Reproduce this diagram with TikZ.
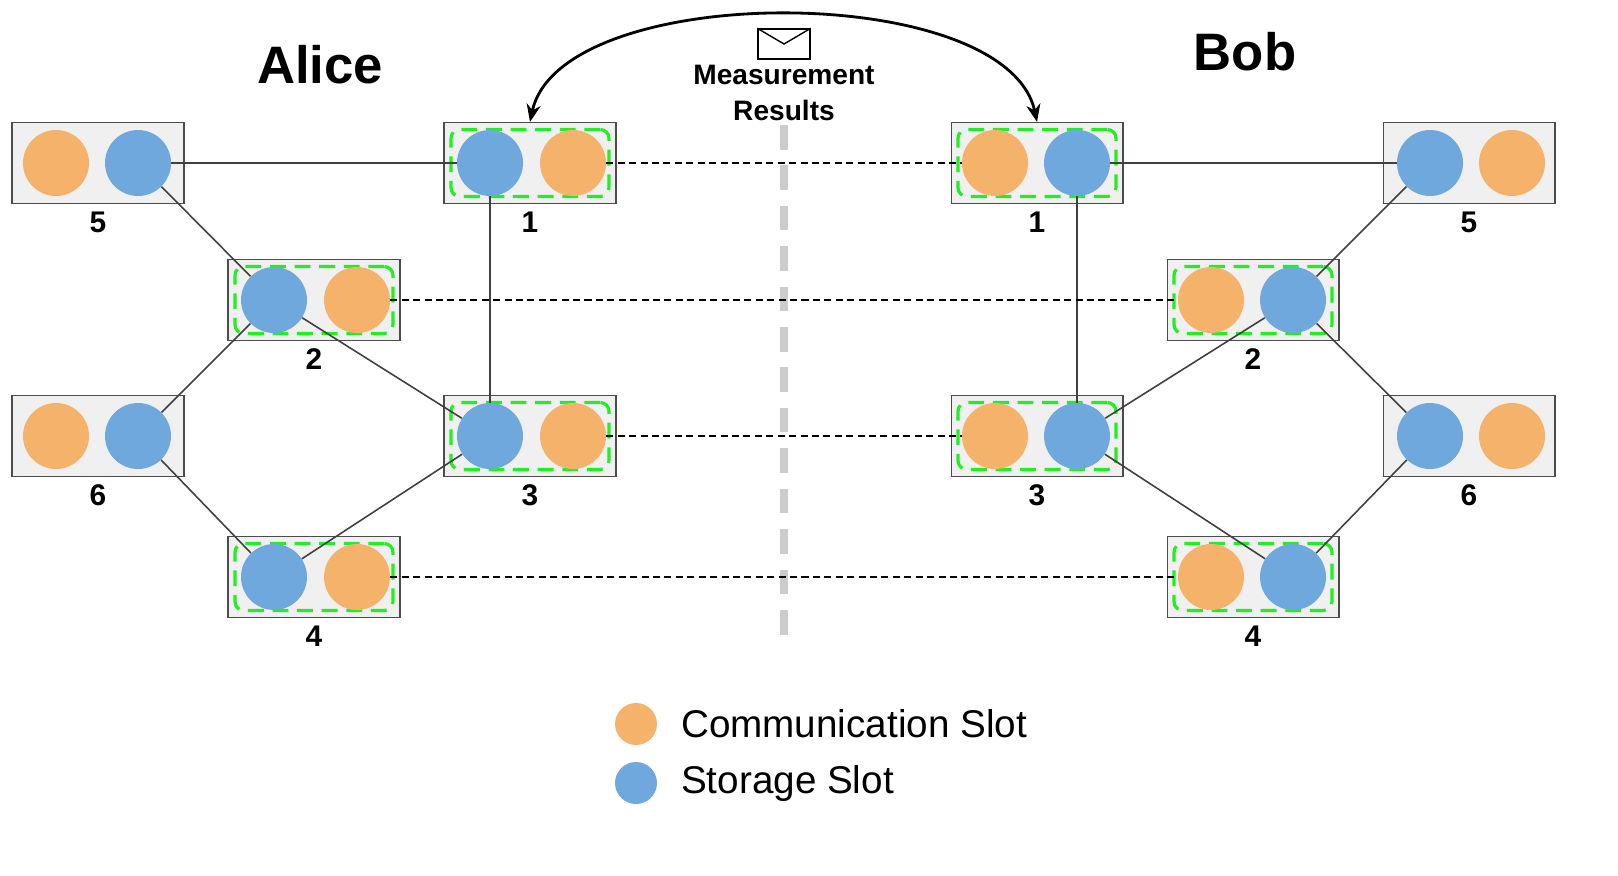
\documentclass[tikz,border=0pt]{standalone}
\usepackage{fontspec}
\setmainfont{Liberation Sans}
\usetikzlibrary{arrows.meta, positioning, shapes.geometric}
\definecolor{comm}{HTML}{F5B26B}
\definecolor{stor}{HTML}{6FA8DC}
\definecolor{boxfill}{HTML}{F0F0F0}
\definecolor{pairgreen}{HTML}{22EE22}
\begin{document}
\begin{tikzpicture}[x=0.02cm, y=-0.02cm,
        >=Stealth,
        qpu/.style={draw=black!70, fill=boxfill, minimum width=3.44cm, minimum height=1.62cm, line width=0.6pt},
        pair/.style={draw=pairgreen, dash pattern=on 9pt off 5pt, rounded corners=5pt, line width=1.8pt, minimum width=3.16cm, minimum height=1.34cm},
        cs/.style={circle, fill=comm, minimum size=1.32cm, inner sep=0pt},
        ss/.style={circle, fill=stor, minimum size=1.32cm, inner sep=0pt},
        lbl/.style={font=\bfseries\fontsize{17}{20}\selectfont},
        link/.style={draw=black!75, line width=0.9pt},
        epr/.style={black, dash pattern=on 4pt off 2.5pt, line width=0.9pt}
    ]
    \useasboundingbox (0,0) rectangle (1618,875);

    % partition line
    \draw[black!20, line width=5pt, dash pattern=on 14pt off 9pt] (784,125) -- (784,645);

    % Alice side
    \node[qpu] (a5) at (98,163) {};
    \node[qpu] (a1) at (530,163) {};
    \node[qpu] (a2) at (314,300) {};
    \node[qpu] (a6) at (98,436) {};
    \node[qpu] (a3) at (530,436) {};
    \node[qpu] (a4) at (314,577) {};
    % Bob side
    \node[qpu] (b1) at (1037,163) {};
    \node[qpu] (b5) at (1469,163) {};
    \node[qpu] (b2) at (1253,300) {};
    \node[qpu] (b6) at (1469,436) {};
    \node[qpu] (b3) at (1037,436) {};
    \node[qpu] (b4) at (1253,577) {};

    % entangled pairs
    \foreach \n in {a1,a2,a3,a4,b1,b2,b3,b4}
        \node[pair] at (\n) {};

    % slots
    \node[cs] (a5c) at (56,163) {};   \node[ss] (a5s) at (138,163) {};
    \node[ss] (a1s) at (490,163) {};  \node[cs] (a1c) at (573,163) {};
    \node[ss] (a2s) at (274,300) {};  \node[cs] (a2c) at (357,300) {};
    \node[cs] (a6c) at (56,436) {};   \node[ss] (a6s) at (138,436) {};
    \node[ss] (a3s) at (490,436) {};  \node[cs] (a3c) at (573,436) {};
    \node[ss] (a4s) at (274,577) {};  \node[cs] (a4c) at (357,577) {};
    \node[cs] (b1c) at (995,163) {};  \node[ss] (b1s) at (1077,163) {};
    \node[ss] (b5s) at (1430,163) {}; \node[cs] (b5c) at (1512,163) {};
    \node[cs] (b2c) at (1211,300) {}; \node[ss] (b2s) at (1293,300) {};
    \node[ss] (b6s) at (1430,436) {}; \node[cs] (b6c) at (1512,436) {};
    \node[cs] (b3c) at (995,436) {};  \node[ss] (b3s) at (1077,436) {};
    \node[cs] (b4c) at (1211,577) {}; \node[ss] (b4s) at (1293,577) {};

    % labels
    \foreach \n/\t in {a5/5,a1/1,a2/2,a6/6,a3/3,a4/4,b1/1,b5/5,b2/2,b6/6,b3/3,b4/4}
        \node[lbl, below=1pt of \n] {\t};

    % local links
    \draw[link] (a5s) -- (a1s);
    \draw[link] (a5s) -- (a2s);
    \draw[link] (a1s) -- (a3s);
    \draw[link] (a2s) -- (a6s);
    \draw[link] (a2s) -- (a3s);
    \draw[link] (a6s) -- (a4s);
    \draw[link] (a4s) -- (a3s);
    \draw[link] (b1s) -- (b5s);
    \draw[link] (b5s) -- (b2s);
    \draw[link] (b1s) -- (b3s);
    \draw[link] (b2s) -- (b6s);
    \draw[link] (b2s) -- (b3s);
    \draw[link] (b6s) -- (b4s);
    \draw[link] (b4s) -- (b3s);

    % remote pairs
    \draw[epr] (a1c) -- (b1c);
    \draw[epr] (a2c) -- (b2c);
    \draw[epr] (a3c) -- (b3c);
    \draw[epr] (a4c) -- (b4c);

    % classical communication
    \draw[<->, line width=1.6pt, >={Stealth[length=10pt,width=8pt]}] (a1.north) .. controls (560,-20) and (1007,-20) .. (b1.north);
    \node[draw=black, fill=white, minimum width=1.04cm, minimum height=0.6cm, inner sep=0pt, line width=0.8pt] (env) at (784,44) {};
    \draw[line width=0.8pt] (env.north west) -- (env.center) -- (env.north east);
    \node[font=\bfseries\fontsize{16}{21}\selectfont, align=center] (msg) at (784,93) {Measurement\\Results};

    \node[font=\bfseries\fontsize{30}{34}\selectfont] (alice) at (320,65) {Alice};
    \node[font=\bfseries\fontsize{30}{34}\selectfont] (bob) at (1245,52) {Bob};

    % legend
    \node[circle, fill=comm, minimum size=0.84cm, inner sep=0pt] (lc) at (636,724) {};
    \node[circle, fill=stor, minimum size=0.84cm, inner sep=0pt] (ls) at (636,783) {};
    \node[right=10pt of lc, font=\fontsize{22}{26}\selectfont] {Communication Slot};
    \node[right=10pt of ls, font=\fontsize{22}{26}\selectfont] {Storage Slot};
\end{tikzpicture}
\end{document}
